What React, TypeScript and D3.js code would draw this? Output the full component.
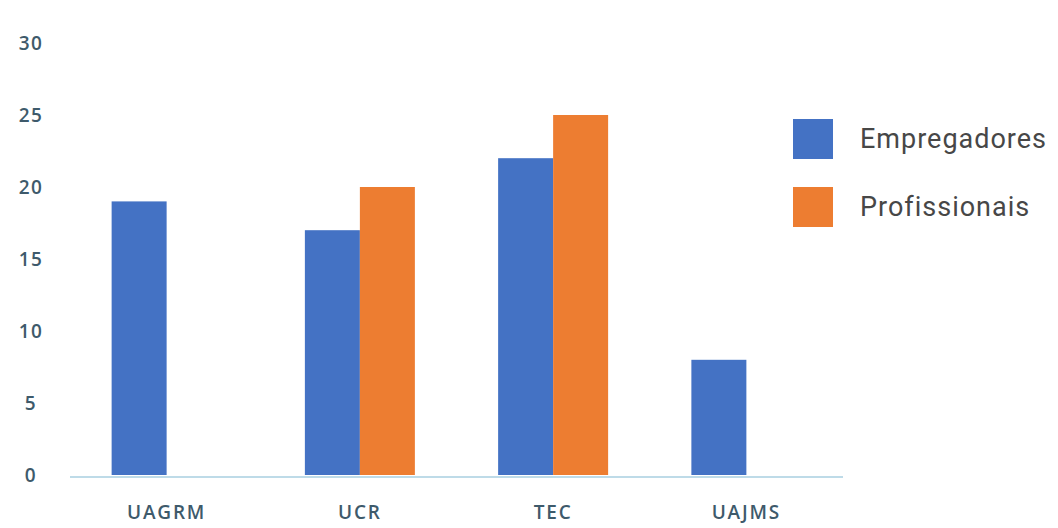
import { useEffect, useRef } from 'react';
import * as d3 from 'd3';

const categories = ['UAGRM', 'UCR', 'TEC', 'UAJMS'];
const series = ['Empregadores', 'Profissionais'];
const empregadores = [19, 17, 22, 8];
const profissionais = [0, 20, 25, 0];
const yTicks = [0, 5, 10, 15, 20, 25, 30];
const colors = ['#4472C4', '#ED7D31'];

const App = () => {
  const svgRef = useRef<SVGSVGElement>(null);

  useEffect(() => {
    const svg = d3.select(svgRef.current);
    svg.selectAll('*').remove();

    const width = 1058;
    const height = 528;
    const left = 70;
    const right = 843;
    const bottom = 475;
    const top = 43;

    svg.attr('width', width).attr('height', height)
      .style('position', 'absolute').style('left', '0px').style('top', '0px')
      .style('display', 'block').style('background', '#fff');

    const x = d3.scaleBand().domain(categories).range([left, right]).paddingInner(0).paddingOuter(0);
    const y = d3.scaleLinear().domain([0, 30]).range([bottom, top]);
    const groupW = 110;
    const x1 = d3.scaleBand().domain(series).range([0, groupW]);

    const values = [empregadores, profissionais];

    // axis line
    svg.append('line')
      .attr('x1', left).attr('x2', right)
      .attr('y1', bottom + 2).attr('y2', bottom + 2)
      .attr('stroke', '#a9cfe0').attr('stroke-width', 1.5);

    const g = svg.append('g');
    series.forEach((s, si) => {
      g.selectAll(`rect.s${si}`)
        .data(categories.map((c, i) => ({ c, v: values[si][i] })).filter(d => d.v > 0))
        .enter().append('rect')
        .attr('x', d => (x(d.c) as number) + x.bandwidth() / 2 - groupW / 2 + (x1(s) as number))
        .attr('width', x1.bandwidth())
        .attr('y', d => y(d.v))
        .attr('height', d => y(0) - y(d.v))
        .attr('fill', colors[si]);
    });

    // y tick labels
    svg.append('g').selectAll('text')
      .data(yTicks).enter().append('text')
      .attr('x', 31).attr('y', d => y(d) + 2)
      .attr('text-anchor', 'middle').attr('dominant-baseline', 'middle')
      .attr('font-family', 'Open Sans, sans-serif').attr('font-size', 19)
      .attr('font-weight', 600)
      .attr('letter-spacing', 1.5)
      .attr('fill', '#3e5a6b')
      .text(d => d);

    // category labels
    svg.append('g').selectAll('text')
      .data(categories).enter().append('text')
      .attr('x', d => (x(d) as number) + x.bandwidth() / 2)
      .attr('y', 519)
      .attr('text-anchor', 'middle')
      .attr('font-family', 'Open Sans, sans-serif').attr('font-size', 19)
      .attr('font-weight', 600)
      .attr('letter-spacing', 1.8)
      .attr('fill', '#3e5a6b')
      .text(d => d);

    // legend
    const legend = svg.append('g');
    series.forEach((s, i) => {
      legend.append('rect')
        .attr('x', 793).attr('y', 119 + i * 68)
        .attr('width', 40).attr('height', 40)
        .attr('fill', colors[i]);
      legend.append('text')
        .attr('x', 860).attr('y', 148 + i * 68)
        .attr('font-family', 'Roboto, sans-serif').attr('font-size', 27)
        .attr('letter-spacing', 1)
        .attr('fill', '#474747')
        .text(s);
    });
  }, []);

  return <svg ref={svgRef} />;
};

export default App;
